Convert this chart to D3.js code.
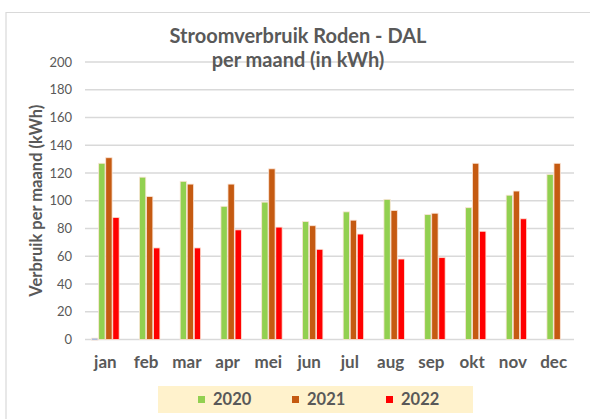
<!DOCTYPE html>
<html>
<head>
<meta charset="utf-8">
<script src="https://cdn.jsdelivr.net/npm/d3@7"></script>
<style>
  html, body { margin: 0; padding: 0; background: #fff; }
  svg { display: block; font-family: Lato, "Open Sans", sans-serif; }
</style>
</head>
<body>
<div id="chart"></div>
<script>
const months = ['jan', 'feb', 'mar', 'apr', 'mei', 'jun', 'jul', 'aug', 'sep', 'okt', 'nov', 'dec'];
const yTicks = [0, 20, 40, 60, 80, 100, 120, 140, 160, 180, 200];
// hidden series (not in legend), only a tiny bar in jan
const vHidden = [1, 0, 0, 0, 0, 0, 0, 0, 0, 0, 0, 0];
const v2020 = [127, 117, 114, 96, 99, 85, 92, 101, 90, 95, 104, 119];
const v2021 = [131, 103, 112, 112, 123, 82, 86, 93, 91, 127, 107, 127];
const v2022 = [88, 66, 66, 79, 81, 65, 76, 58, 59, 78, 87, null];
const seriesNames = ['', '2020', '2021', '2022'];
const legendNames = ['2020', '2021', '2022'];

const colors = { '': '#8faadc', '2020': '#92d050', '2021': '#c55a11', '2022': '#ff0000' };
const textColor = '#595959';

const width = 590, height = 419;
const margin = { left: 85, right: 16, top: 62, bottom: 80 };

const svg = d3.select('#chart').append('svg')
  .attr('width', width)
  .attr('height', height);

// chart border (cropped on right and bottom)
svg.append('path')
  .attr('d', `M6,${height + 2} L6,12.5 L${width + 2},12.5`)
  .attr('fill', 'none')
  .attr('stroke', '#d9d9d9')
  .attr('stroke-width', 1.2);

const x0 = d3.scaleBand()
  .domain(months)
  .range([margin.left, width - margin.right])
  .paddingInner(0.29)
  .paddingOuter(0.145);

const x1 = d3.scaleBand()
  .domain(seriesNames)
  .range([0, x0.bandwidth()])
  .padding(0.1);

const y = d3.scaleLinear()
  .domain([0, 200])
  .range([339.5, 62]);

// gridlines
svg.append('g')
  .selectAll('line')
  .data(yTicks)
  .join('line')
  .attr('x1', margin.left)
  .attr('x2', width - margin.right)
  .attr('y1', d => y(d))
  .attr('y2', d => y(d))
  .attr('stroke', '#d9d9d9')
  .attr('stroke-width', 1.3);

// y labels
svg.append('g')
  .selectAll('text')
  .data(yTicks)
  .join('text')
  .attr('x', 72)
  .attr('y', d => y(d))
  .attr('dy', '0.35em')
  .attr('text-anchor', 'end')
  .attr('fill', textColor)
  .style('font-size', '13px')
  .text(d => d);

// bars
const table = months.map((m, i) => ({
  month: m,
  values: [
    { key: '', value: vHidden[i] },
    { key: '2020', value: v2020[i] },
    { key: '2021', value: v2021[i] },
    { key: '2022', value: v2022[i] }
  ].filter(d => d.value)
}));

const groups = svg.append('g')
  .selectAll('g')
  .data(table)
  .join('g')
  .attr('transform', d => `translate(${x0(d.month)},0)`);

groups.selectAll('rect')
  .data(d => d.values)
  .join('rect')
  .attr('x', d => x1(d.key))
  .attr('width', x1.bandwidth())
  .attr('y', d => y(d.value))
  .attr('height', d => Math.max(2, y(0) - y(d.value)))
  .attr('fill', d => colors[d.key])
  .attr('stroke', '#fbe5d6')
  .attr('stroke-width', 0.8);

// x labels
svg.append('g')
  .selectAll('text')
  .data(months)
  .join('text')
  .attr('x', d => x0(d) + x0.bandwidth() / 2)
  .attr('y', 368)
  .attr('text-anchor', 'middle')
  .attr('fill', textColor)
  .style('font-size', '17px')
  .style('font-weight', 'bold')
  .text(d => d);

// y title
svg.append('text')
  .attr('transform', `translate(42,${(y(0) + y(200)) / 2}) rotate(-90)`)
  .attr('text-anchor', 'middle')
  .attr('fill', textColor)
  .style('font-size', '16.5px')
  .style('font-weight', 'bold')
  .text('Verbruik per maand (kWh)');

// title
const title = svg.append('text')
  .attr('text-anchor', 'middle')
  .attr('fill', textColor)
  .style('font-size', '20px')
  .style('font-weight', 'bold');
title.append('tspan').attr('x', 298).attr('y', 43).text('Stroomverbruik Roden - DAL');
title.append('tspan').attr('x', 298).attr('y', 67).text('per maand (in kWh)');

// legend
const legend = svg.append('g');
legend.append('rect')
  .attr('x', 158)
  .attr('y', 386)
  .attr('width', 315)
  .attr('height', 27)
  .attr('fill', '#fff2cc');

const legendX = d3.scalePoint()
  .domain(legendNames)
  .range([198, 386]);

const item = legend.selectAll('g')
  .data(legendNames)
  .join('g')
  .attr('transform', d => `translate(${legendX(d)},399.5)`);

item.append('rect')
  .attr('x', 0)
  .attr('y', -3.5)
  .attr('width', 7)
  .attr('height', 7)
  .attr('fill', d => colors[d]);

item.append('text')
  .attr('x', 15)
  .attr('dy', '0.35em')
  .attr('fill', textColor)
  .style('font-size', '16.5px')
  .style('font-weight', 'bold')
  .text(d => d);
</script>
</body>
</html>
